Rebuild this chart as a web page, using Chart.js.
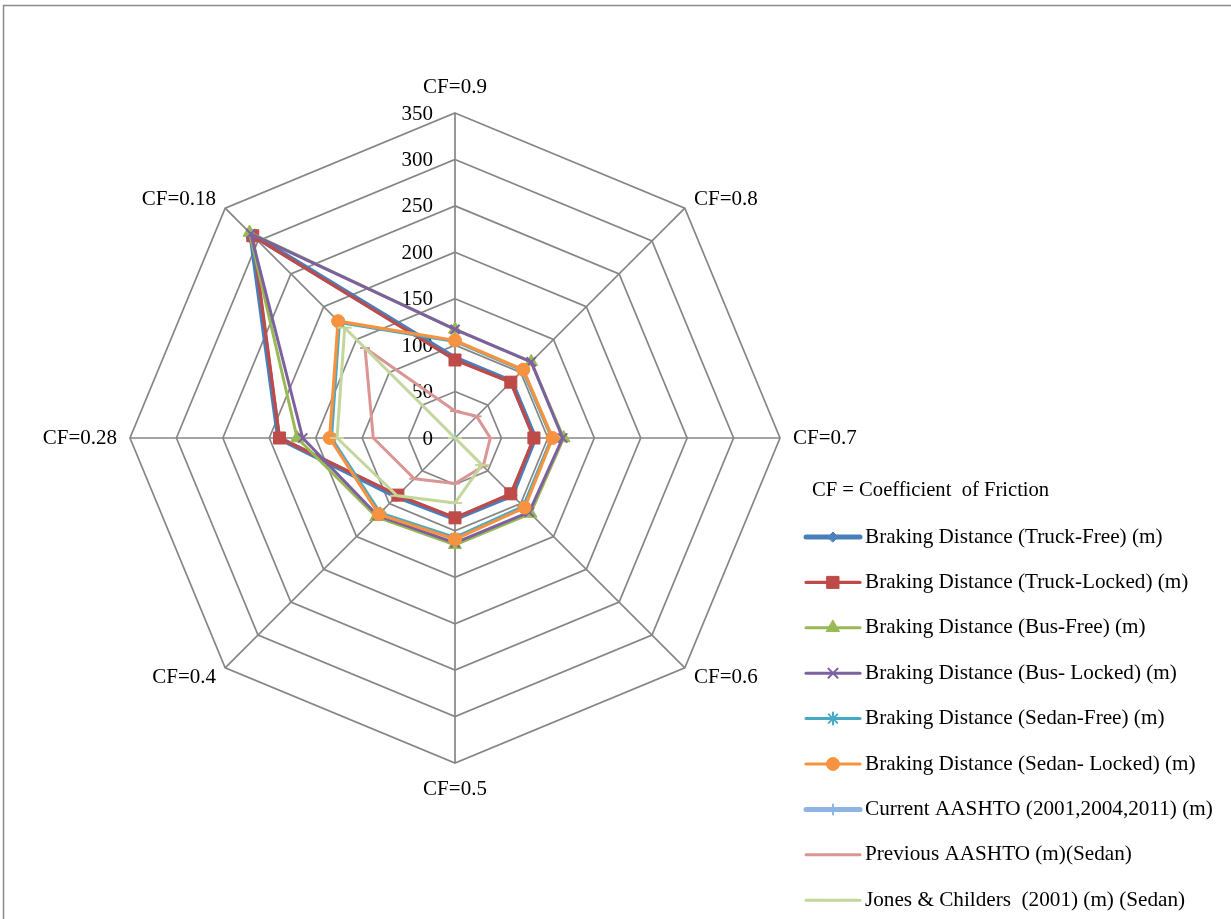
<!DOCTYPE html>
<html>
<head>
<meta charset="utf-8">
<title>Braking Distance by Coefficient of Friction</title>
<script src="https://cdn.jsdelivr.net/npm/chart.js@4.4.1/dist/chart.umd.min.js"></script>
<style>
  html, body { margin: 0; padding: 0; background: #ffffff; }
  canvas { display: block; }
</style>
</head>
<body>
<canvas id="chart" width="1231" height="919"></canvas>
<script>
// Axes of the radar: coefficient of friction
const categories = ['CF=0.9', 'CF=0.8', 'CF=0.7', 'CF=0.6', 'CF=0.5', 'CF=0.4', 'CF=0.28', 'CF=0.18'];

// Braking distances (m) per vehicle / method
const truckFree      = [86, 86, 86, 87, 87, 89, 190, 311];
const truckLocked    = [84, 85, 85, 85, 86, 87, 189, 308];
const busFree        = [117, 116, 117, 115, 115, 120, 170, 313];
const busLocked      = [117, 116, 116, 113, 113, 118, 164, 311];
const sedanFree      = [104, 103, 104, 104, 107, 114, 133, 176];
const sedanLocked    = [105, 104, 105, 106, 109, 116, 135, 178];
const currentAashto  = [0, 0, 0, 0, 0, 0, 0, 0];
const previousAashto = [29, 33, 38, 43, 49, 62, 88, 137];
const jonesChilders  = [0, 0, 0, 41, 70, 88, 127, 168];

const seriesNames = [
  'Braking Distance (Truck-Free) (m)',
  'Braking Distance (Truck-Locked) (m)',
  'Braking Distance (Bus-Free) (m)',
  'Braking Distance (Bus- Locked) (m)',
  'Braking Distance (Sedan-Free) (m)',
  'Braking Distance (Sedan- Locked) (m)',
  'Current AASHTO (2001,2004,2011) (m)',
  'Previous AASHTO (m)(Sedan)',
  'Jones & Childers  (2001) (m) (Sedan)'
];
const seriesValues = [truckFree, truckLocked, busFree, busLocked, sedanFree, sedanLocked,
                      currentAashto, previousAashto, jonesChilders];

// Radial scale ticks
const tickValues = [0, 50, 100, 150, 200, 250, 300, 350];
const legendTitle = 'CF = Coefficient  of Friction';

// Line and marker styling for each series
const seriesStyles = [
  { line: '#4A7EBB', fill: '#4F81BD', width: 5,   marker: 'rectRot',  radius: 5 },
  { line: '#BE4B48', fill: '#BE4B48', width: 3.2, marker: 'rect',     radius: 8.5 },
  { line: '#98B954', fill: '#98B954', width: 3,   marker: 'triangle', radius: 7.5 },
  { line: '#7D60A0', fill: '#7D60A0', width: 3,   marker: 'crossRot', radius: 6.5 },
  { line: '#46AAC5', fill: '#46AAC5', width: 3,   marker: 'star',     radius: 6 },
  { line: '#F69240', fill: '#F69240', width: 3.2, marker: 'circle',   radius: 6.5 },
  { line: '#8EB4E3', fill: '#8EB4E3', width: 5,   marker: 'cross',    radius: 5 },
  { line: '#D99694', fill: '#D99694', width: 3,   marker: 'line',     radius: 5 },
  { line: '#C3D69B', fill: '#C3D69B', width: 3,   marker: 'line',     radius: 7 }
];

const serif = '"Liberation Serif", "Times New Roman", "DejaVu Serif", serif';

const datasets = seriesValues.map((vals, i) => {
  const s = seriesStyles[i];
  return {
    label: seriesNames[i],
    data: vals,
    order: -i,
    fill: false,
    borderColor: s.line,
    backgroundColor: s.fill,
    borderWidth: s.width,
    borderJoinStyle: 'round',
    pointStyle: s.marker,
    pointRadius: s.radius,
    pointBackgroundColor: s.fill,
    pointBorderColor: s.line,
    pointBorderWidth: (s.marker === 'crossRot' || s.marker === 'cross' || s.marker === 'star' || s.marker === 'line') ? 2 : 1,
    pointHoverRadius: s.radius
  };
});

// Draws the frame, tick labels, axis labels and legend
const annotations = {
  id: 'annotations',
  beforeDraw(chart) {
    const ctx = chart.ctx;
    ctx.save();
    ctx.fillStyle = '#ffffff';
    ctx.fillRect(0, 0, chart.width, chart.height);
    ctx.strokeStyle = '#8a8a8a';
    ctx.lineWidth = 1.5;
    ctx.strokeRect(3.5, 5.5, chart.width + 20, chart.height + 20);
    ctx.restore();
  },
  beforeDatasetsDraw(chart) {
    const r = chart.scales.r;
    const ctx = chart.ctx;
    ctx.save();
    ctx.font = '21px ' + serif;
    ctx.fillStyle = '#000000';
    ctx.textAlign = 'right';
    ctx.textBaseline = 'middle';
    tickValues.forEach(v => {
      const d = r.getDistanceFromCenterForValue(v);
      ctx.fillText(String(v), r.xCenter - 22, r.yCenter - d + 1);
    });
    ctx.restore();
  },
  afterDraw(chart) {
    const r = chart.scales.r;
    const ctx = chart.ctx;
    ctx.save();
    ctx.font = '21px ' + serif;
    ctx.fillStyle = '#000000';
    ctx.textBaseline = 'middle';
    categories.forEach((lab, i) => {
      const extra = (i % 4 === 0) ? 26 : 13;
      const p = r.getPointPosition(i, r.drawingArea + extra);
      const dx = p.x - r.xCenter;
      ctx.textAlign = Math.abs(dx) < 1 ? 'center' : (dx > 0 ? 'left' : 'right');
      ctx.fillText(lab, p.x, p.y);
    });

    // Legend
    ctx.textAlign = 'left';
    ctx.font = '20.6px ' + serif;
    ctx.fillText(legendTitle, 812, 491);
    ctx.font = '21.2px ' + serif;
    const x0 = 806, x1 = 860, top = 537, step = 45.4;
    chart.data.datasets.forEach((ds, i) => {
      const y = top + i * step;
      ctx.save();
      ctx.strokeStyle = ds.borderColor;
      ctx.lineWidth = ds.borderWidth;
      ctx.lineCap = 'round';
      ctx.beginPath();
      ctx.moveTo(x0, y);
      ctx.lineTo(x1, y);
      ctx.stroke();
      ctx.fillStyle = ds.pointBackgroundColor;
      ctx.strokeStyle = ds.pointBorderColor;
      ctx.lineWidth = ds.pointBorderWidth;
      Chart.helpers.drawPoint(ctx, {
        pointStyle: ds.pointStyle,
        radius: ds.pointRadius,
        rotation: 0,
        borderWidth: ds.pointBorderWidth
      }, (x0 + x1) / 2, y);
      ctx.restore();
      ctx.fillStyle = '#000000';
      ctx.fillText(ds.label, 865, y);
    });
    ctx.restore();
  }
};

new Chart(document.getElementById('chart'), {
  type: 'radar',
  data: { labels: categories, datasets },
  options: {
    responsive: false,
    animation: false,
    devicePixelRatio: 1,
    layout: { padding: { left: 130, right: 451, top: 113, bottom: 156 } },
    plugins: {
      legend: { display: false },
      tooltip: { enabled: false },
      title: { display: false }
    },
    elements: { line: { tension: 0 } },
    scales: {
      r: {
        min: 0,
        max: 350,
        beginAtZero: true,
        ticks: { display: false, stepSize: 50 },
        pointLabels: { display: false },
        grid: { color: '#868686', lineWidth: 1.7, circular: false },
        angleLines: { color: '#868686', lineWidth: 1.7 }
      }
    }
  },
  plugins: [annotations]
});
</script>
</body>
</html>
